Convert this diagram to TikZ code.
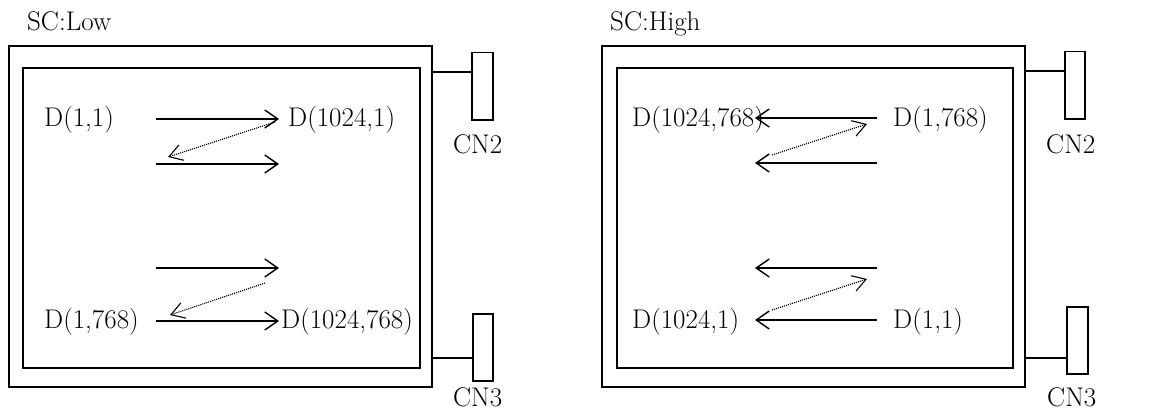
\documentclass[tikz,border=0pt]{standalone}
\usetikzlibrary{arrows.meta}
\begin{document}
\begin{tikzpicture}[x=1pt,y=-1pt,
  lbl/.style={anchor=base west,inner sep=0pt,font=\fontsize{27}{32}\selectfont},
  frame/.style={draw,line width=1.6pt,anchor=north west,inner sep=0pt},
  connbox/.style={draw,line width=1.5pt,anchor=north west,inner sep=0pt,minimum width=20pt,minimum height=67pt},
  wire/.style={line width=1.5pt},
  solidarr/.style={line width=1.6pt,-{Straight Barb[length=13pt,width=18pt,line width=1.4pt]}},
  dotarr/.style={line width=1.1pt,densely dotted,-{Straight Barb[length=13pt,width=16pt,line width=1.1pt]}}]
\useasboundingbox (0,0) rectangle (1161,412);

% ---------------- left panel ----------------
\node[lbl] (tL) at (27,31) {SC:Low};
\node[frame,minimum width=423pt,minimum height=341pt] (outL) at (8,45) {};
\node[frame,minimum width=397pt,minimum height=300pt] (inL) at (22,67) {};
\node[connbox,minimum width=21pt] (cn2L) at (471,52) {};
\node[connbox] (cn3L) at (472,313) {};
\coordinate (w2L) at (431,72);
\coordinate (w3L) at (431,358);
\draw[wire] (w2L) -- (w2L -| cn2L.west);
\draw[wire] (w3L) -- (w3L -| cn3L.west);
\node[lbl] (cn2Lt) at (453,153) {CN2};
\node[lbl] (cn3Lt) at (453,406) {CN3};

\node[lbl] (d11L) at (44,126) {D(1,1)};
\node[lbl] (d10241L) at (288,126) {D(1024,1)};
\node[lbl] (d1768L) at (44,328) {D(1,768)};
\node[lbl] (d1024768L) at (281,328) {D(1024,768)};

\coordinate (a1sL) at (156,119); \coordinate (a1eL) at (279,119);
\coordinate (b1sL) at (275,122); \coordinate (b1eL) at (168,157);
\coordinate (a2sL) at (156,164); \coordinate (a2eL) at (279,164);
\coordinate (a3sL) at (156,268); \coordinate (a3eL) at (279,268);
\coordinate (b2sL) at (265,283); \coordinate (b2eL) at (170,315);
\coordinate (a4sL) at (156,321); \coordinate (a4eL) at (279,321);
\draw[solidarr] (a1sL) -- (a1eL);
\draw[dotarr] (b1sL) -- (b1eL);
\draw[solidarr] (a2sL) -- (a2eL);
\draw[solidarr] (a3sL) -- (a3eL);
\draw[dotarr] (b2sL) -- (b2eL);
\draw[solidarr] (a4sL) -- (a4eL);

% ---------------- right panel ----------------
\node[lbl] (tR) at (610,31) {SC:High};
\node[frame,minimum width=423pt,minimum height=341pt] (outR) at (601,45) {};
\node[frame,minimum width=396pt,minimum height=300pt] (inR) at (616,67) {};
\node[connbox] (cn2R) at (1064,51) {};
\node[connbox,minimum width=21pt] (cn3R) at (1066,306) {};
\coordinate (w2R) at (1024,71);
\coordinate (w3R) at (1024,358);
\draw[wire] (w2R) -- (w2R -| cn2R.west);
\draw[wire] (w3R) -- (w3R -| cn3R.west);
\node[lbl] (cn2Rt) at (1046,153) {CN2};
\node[lbl] (cn3Rt) at (1047,406) {CN3};

\node[lbl] (d1024768R) at (632,126) {D(1024,768)};
\node[lbl] (d1768R) at (893,126) {D(1,768)};
\node[lbl] (d10241R) at (632,328) {D(1024,1)};
\node[lbl] (d11R) at (893,328) {D(1,1)};

\coordinate (a1sR) at (877,118); \coordinate (a1eR) at (755,118);
\coordinate (b1sR) at (772,155); \coordinate (b1eR) at (867,124);
\coordinate (a2sR) at (877,163); \coordinate (a2eR) at (755,163);
\coordinate (a3sR) at (877,268); \coordinate (a3eR) at (755,268);
\coordinate (b2sR) at (772,310); \coordinate (b2eR) at (867,279);
\coordinate (a4sR) at (877,320); \coordinate (a4eR) at (755,320);
\draw[solidarr] (a1sR) -- (a1eR);
\draw[dotarr] (b1sR) -- (b1eR);
\draw[solidarr] (a2sR) -- (a2eR);
\draw[solidarr] (a3sR) -- (a3eR);
\draw[dotarr] (b2sR) -- (b2eR);
\draw[solidarr] (a4sR) -- (a4eR);
\end{tikzpicture}
\end{document}
